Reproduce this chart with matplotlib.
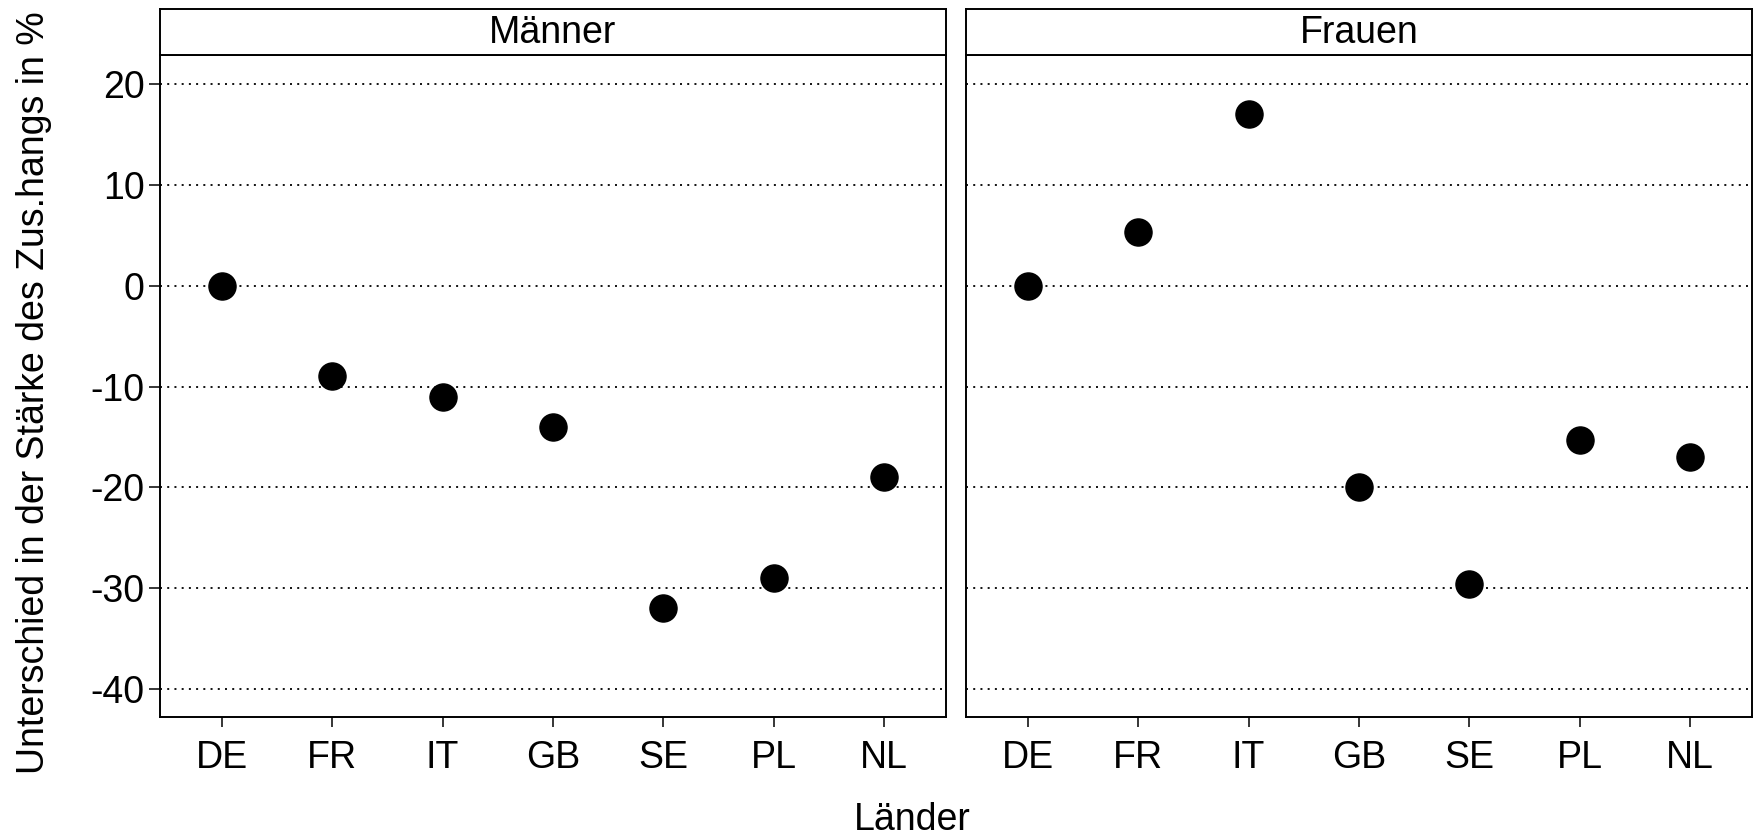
import matplotlib
matplotlib.use("Agg")
import matplotlib.pyplot as plt

plt.rcParams['font.family'] = ['Liberation Sans', 'DejaVu Sans']

laender = ["DE", "FR", "IT", "GB", "SE", "PL", "NL"]
maenner = [0, -9, -11, -14, -32, -29, -19]
frauen = [0, 5.3, 17, -20, -29.6, -15.3, -17]
panels = ["Männer", "Frauen"]
yticks = [20, 10, 0, -10, -20, -30, -40]

W, H = 1754, 838
fig = plt.figure(figsize=(W / 100, H / 100), dpi=100)

fs = 27
lefts = [160, 966]
pw = 786
ptop, pbot = 55, 717
stop = 9

for i, (name, vals) in enumerate(zip(panels, [maenner, frauen])):
    ax = fig.add_axes([lefts[i] / W, (H - pbot) / H, pw / W, (pbot - ptop) / H])
    for y in yticks:
        ax.axhline(y, color="black", linestyle=(0, (1.1, 2.9)), linewidth=1.3, zorder=1)
    x = list(range(len(laender)))
    ax.plot(x, vals, "o", color="black", markersize=19.5, zorder=3)
    ax.set_xlim(-0.56, 6.56)
    ax.set_ylim(-42.8, 22.9)
    ax.set_xticks(x)
    ax.set_xticklabels(laender, fontsize=fs)
    ax.tick_params(axis="x", length=7.5, width=1.1, pad=9, direction="out")
    if i == 0:
        ax.set_yticks(yticks)
        ax.set_yticklabels([str(v) for v in yticks], fontsize=fs)
        ax.tick_params(axis="y", length=8, width=1.1, pad=3)
    else:
        ax.set_yticks([])
    for sp in ax.spines.values():
        sp.set_linewidth(1.4)

    # strip header
    sax = fig.add_axes([lefts[i] / W, (H - ptop) / H, pw / W, (ptop - stop) / H])
    sax.set_xticks([])
    sax.set_yticks([])
    for sp in sax.spines.values():
        sp.set_linewidth(1.4)
    sax.text(0.5, 0.48, name, ha="center", va="center", fontsize=fs, transform=sax.transAxes)

fig.text(34 / W, 1 - 393 / H, "Unterschied in der Stärke des Zus.hangs in %",
         rotation=90, ha="center", va="center", fontsize=fs)
fig.text(912 / W, 1 - 820 / H, "Länder", ha="center", va="center", fontsize=fs)

fig.savefig("out.png", dpi=100, facecolor="white")
